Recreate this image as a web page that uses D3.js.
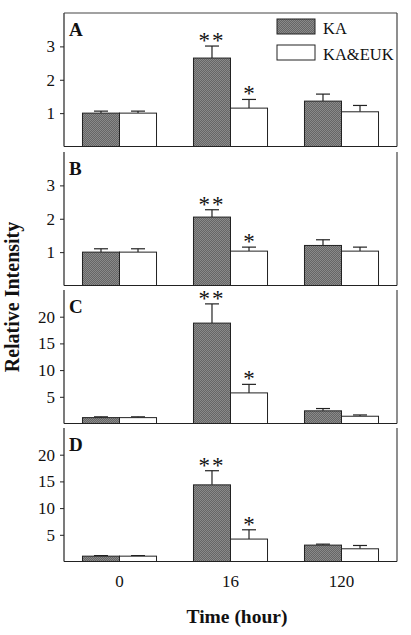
<!DOCTYPE html>
<html><head><meta charset="utf-8">
<script src="https://cdn.jsdelivr.net/npm/d3@7"></script>
<style>body{margin:0;background:#fff}svg{display:block}text{font-family:"Liberation Serif","Times New Roman",serif}</style>
</head><body>
<svg id="c" width="411" height="635"></svg>
<script>
const categories = ["0", "16", "120"];
const seriesNames = ["KA", "KA&EUK"];
const panelLabels = ["A", "B", "C", "D"];
const panelMax = [4, 4, 25, 25];
const panelTicks = [[1, 2, 3], [1, 2, 3], [5, 10, 15, 20], [5, 10, 15, 20]];
const kaValues = [[1.0, 2.65, 1.36], [1.0, 2.05, 1.2], [1.1, 18.8, 2.37], [1.0, 14.35, 3.07]];
const kaErrors = [[0.06, 0.36, 0.21], [0.1, 0.22, 0.17], [0.15, 3.6, 0.43], [0.1, 2.65, 0.18]];
const eukValues = [[1.0, 1.15, 1.04], [1.0, 1.03, 1.03], [1.1, 5.73, 1.36], [1.0, 4.2, 2.38]];
const eukErrors = [[0.06, 0.26, 0.19], [0.1, 0.12, 0.12], [0.15, 1.6, 0.24], [0.1, 1.74, 0.62]];
const kaMarks = ["**", "**", "**", "**"];
const eukMarks = ["*", "*", "*", "*"];

const svg = d3.select("#c");
const defs = svg.append("defs");
const pat = defs.append("pattern").attr("id", "stip").attr("width", 2).attr("height", 2).attr("patternUnits", "userSpaceOnUse");
pat.append("rect").attr("width", 2).attr("height", 2).attr("fill", "#666");
pat.append("rect").attr("width", 1).attr("height", 1).attr("fill", "#8a8a8a");
pat.append("rect").attr("x", 1).attr("y", 1).attr("width", 1).attr("height", 1).attr("fill", "#8a8a8a");

const left = 64, right = 397;
const panelTop = [13, 152, 290, 428];
const panelH = 133.5;

const x = d3.scaleBand().domain(categories).range([left, right]).paddingInner(0.333).paddingOuter(0.1665);
const xs = d3.scaleBand().domain(seriesNames).range([0, x.bandwidth()]);

panelLabels.forEach((lab, p) => {
  const top = panelTop[p], bottom = top + panelH;
  const y = d3.scaleLinear().domain([0, panelMax[p]]).range([bottom, top]);
  const g = svg.append("g");
  g.append("line").attr("x1", left).attr("x2", left).attr("y1", top).attr("y2", bottom).attr("stroke", "#222").attr("stroke-width", 1.2);
  g.append("line").attr("x1", right).attr("x2", right).attr("y1", top).attr("y2", bottom).attr("stroke", "#444").attr("stroke-width", 1.2);
  g.append("line").attr("x1", left).attr("x2", right).attr("y1", bottom).attr("y2", bottom).attr("stroke", "#222").attr("stroke-width", 1.2);
  if (p === 0) g.append("line").attr("x1", left).attr("x2", right).attr("y1", top).attr("y2", top).attr("stroke", "#444").attr("stroke-width", 1.2);
  const ax = g.append("g").attr("transform", `translate(${left},0)`)
    .call(d3.axisLeft(y).tickValues(panelTicks[p]).tickFormat(d3.format("d")).tickSize(4).tickPadding(5));
  ax.select(".domain").remove();
  ax.selectAll("line").attr("stroke", "#222");
  ax.selectAll("text").attr("font-size", 17).attr("fill", "#111").style("font-family", '"Liberation Serif",serif');
  g.append("text").attr("x", 69).attr("y", top + 23).attr("font-size", 19).attr("font-weight", "bold").attr("fill", "#111").text(lab);
  const series = [
    {name: "KA", vals: kaValues[p], errs: kaErrors[p], marks: kaMarks[p], fill: "url(#stip)"},
    {name: "KA&EUK", vals: eukValues[p], errs: eukErrors[p], marks: eukMarks[p], fill: "#fff"}
  ];
  series.forEach(s => {
    categories.forEach((c, i) => {
      const bx = x(c) + xs(s.name), bw = xs.bandwidth();
      const cx = bx + bw / 2;
      const et = y(s.vals[i] + s.errs[i]);
      g.append("line").attr("x1", cx).attr("x2", cx).attr("y1", y(s.vals[i])).attr("y2", et).attr("stroke", "#222").attr("stroke-width", 1.2);
      g.append("line").attr("x1", cx - 7).attr("x2", cx + 7).attr("y1", et).attr("y2", et).attr("stroke", "#222").attr("stroke-width", 1.2);
      g.append("rect").attr("x", bx).attr("y", y(s.vals[i])).attr("width", bw).attr("height", bottom - y(s.vals[i]))
        .attr("fill", s.fill).attr("stroke", "#222").attr("stroke-width", 1);
      if (c === "16") {
        g.append("text").attr("x", cx).attr("y", et + 2).attr("text-anchor", "middle")
          .attr("font-size", 23).attr("letter-spacing", s.marks.length > 1 ? 2 : 0).attr("fill", "#111").text(s.marks);
      }
    });
  });
});

const lg = svg.append("g");
seriesNames.forEach((n, i) => {
  const ly = 19 + i * 26;
  lg.append("rect").attr("x", 277).attr("y", ly).attr("width", 38).attr("height", 15)
    .attr("fill", i === 0 ? "url(#stip)" : "#fff").attr("stroke", "#222").attr("stroke-width", 1);
  lg.append("text").attr("x", 323).attr("y", ly + 14.5).attr("font-size", 16.5).attr("fill", "#111").text(n);
});

const xl = svg.append("g").attr("transform", `translate(0,${panelTop[3] + panelH})`);
xl.call(d3.axisBottom(x).tickSize(0).tickPadding(13));
xl.select(".domain").remove();
xl.selectAll("text").attr("font-size", 17).attr("fill", "#111").style("font-family", '"Liberation Serif",serif');

svg.append("text").attr("x", 237).attr("y", 623).attr("text-anchor", "middle").attr("font-size", 19.5).attr("font-weight", "bold").attr("fill", "#111").text("Time (hour)");
svg.append("text").attr("transform", "translate(19,297) rotate(-90)").attr("text-anchor", "middle").attr("font-size", 20).attr("font-weight", "bold").attr("fill", "#111").text("Relative Intensity");
</script>
</body></html>
